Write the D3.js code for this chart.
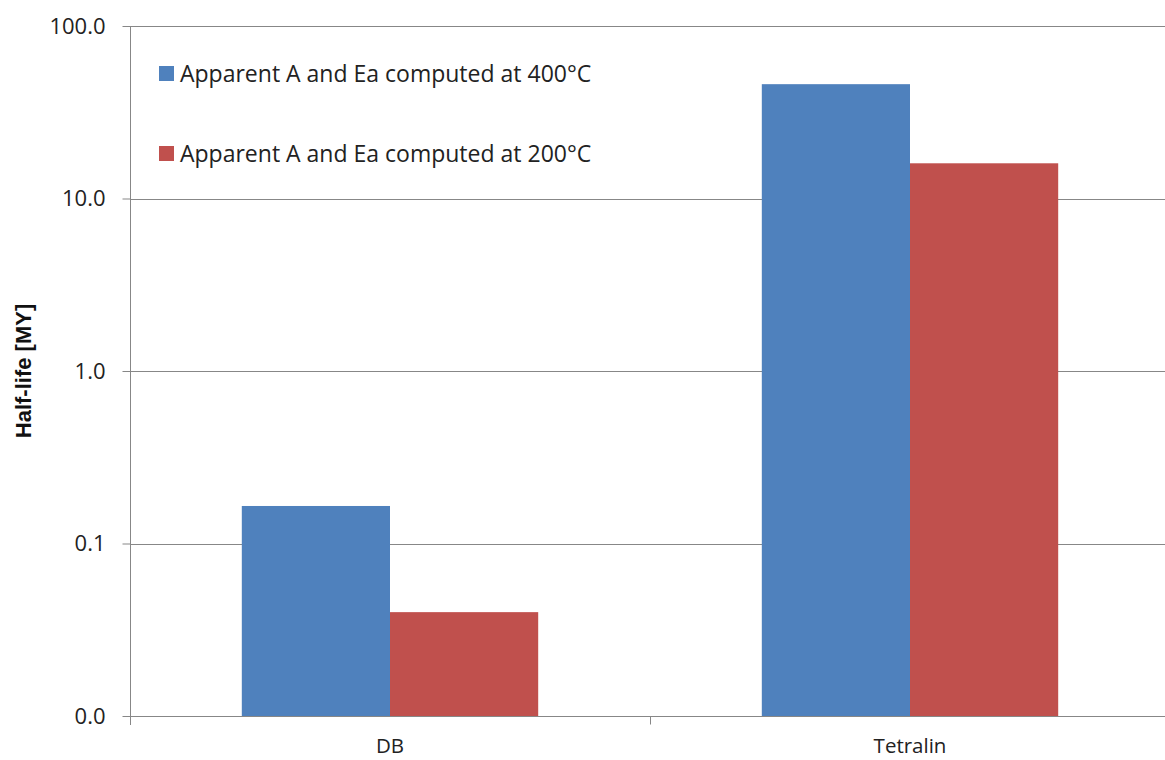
<!DOCTYPE html>
<html>
<head>
<meta charset="utf-8">
<script src="https://cdn.jsdelivr.net/npm/d3@7"></script>
<style>
  html, body { margin: 0; padding: 0; background: #fff; }
  svg { display: block; font-family: "Open Sans", "Noto Sans", sans-serif; }
</style>
</head>
<body>
<svg id="chart" width="1165" height="760"></svg>
<script>
const categories = ["DB", "Tetralin"];
const seriesNames = ["Apparent A and Ea computed at 400°C", "Apparent A and Ea computed at 200°C"];
const values400 = [0.165, 46];
const values200 = [0.040, 16];
const yTicks = [0.01, 0.1, 1, 10, 100];
const colors = ["#4F81BD", "#C0504D"];
const yTitle = "Half-life [MY]";

(function () {
const svg = d3.select("#chart");
const mLeft = 130, mRight = 1170, mTop = 26, mBottom = 716;
const gridColor = "#878787";

const x = d3.scaleBand().domain(categories).range([mLeft, mRight]).paddingInner(0.43).paddingOuter(0.215);
const xs = d3.scaleBand().domain(seriesNames).range([0, x.bandwidth()]);
const y = d3.scaleLog().domain([0.01, 100]).range([mBottom, mTop]);
const fmt = d3.format(".1f");

// gridlines
svg.append("g").selectAll("line").data(yTicks.slice(1)).join("line")
  .attr("x1", mLeft).attr("x2", mRight)
  .attr("y1", d => Math.round(y(d)) + 0.5).attr("y2", d => Math.round(y(d)) + 0.5)
  .attr("stroke", gridColor).attr("stroke-width", 1);

// bars
const data = categories.map((c, i) => ({c, vals: [values400[i], values200[i]]}));
const g = svg.append("g");
data.forEach(d => {
  d.vals.forEach((v, j) => {
    g.append("rect")
      .attr("x", x(d.c) + xs(seriesNames[j]))
      .attr("width", xs.bandwidth())
      .attr("y", y(v))
      .attr("height", y(0.01) - y(v))
      .attr("fill", colors[j]);
  });
});

// y axis
const yAxis = d3.axisLeft(y).tickValues(yTicks).tickFormat(fmt).tickSize(8).tickPadding(17);
const ya = svg.append("g").attr("transform", `translate(${mLeft + 0.5},0)`).call(yAxis);
ya.select(".domain").attr("stroke", gridColor).attr("d", `M0,${mTop}V${mBottom + 9}`);
ya.selectAll(".tick line").attr("stroke", gridColor);
ya.selectAll(".tick text").attr("font-size", 22).attr("fill", "#222").attr("font-family", "Open Sans, sans-serif");

// x axis
const xa = svg.append("g").attr("transform", `translate(0,${Math.round(mBottom) + 0.5})`);
xa.append("line").attr("x1", mLeft).attr("x2", mRight).attr("stroke", gridColor);
const edges = [mLeft, mLeft + x.step(), mLeft + 2 * x.step()];
xa.selectAll("line.tk").data(edges).join("line").attr("class", "tk")
  .attr("x1", d => Math.round(d) + 0.5).attr("x2", d => Math.round(d) + 0.5)
  .attr("y1", 0).attr("y2", 8).attr("stroke", gridColor);
xa.selectAll("text").data(categories).join("text")
  .attr("x", d => x(d) + x.bandwidth() / 2)
  .attr("y", 36)
  .attr("text-anchor", "middle")
  .attr("font-size", 20.5)
  .attr("fill", "#222")
  .text(d => d);

// y title
svg.append("text")
  .attr("transform", `translate(31,${(mTop + mBottom) / 2}) rotate(-90)`)
  .attr("text-anchor", "middle")
  .attr("font-size", 22)
  .attr("font-weight", "bold")
  .attr("font-family", "Liberation Sans, Arial, sans-serif")
  .attr("fill", "#111")
  .text(yTitle);

// legend
const leg = svg.append("g");
const legY = [73, 153];
seriesNames.forEach((s, i) => {
  leg.append("rect").attr("x", 159).attr("y", legY[i] - 7).attr("width", 15).attr("height", 15).attr("fill", colors[i]);
  leg.append("text").attr("x", 180).attr("y", legY[i] + 8.5)
    .attr("font-size", 23).attr("fill", "#222").text(s);
});
})();
</script>
</body>
</html>
